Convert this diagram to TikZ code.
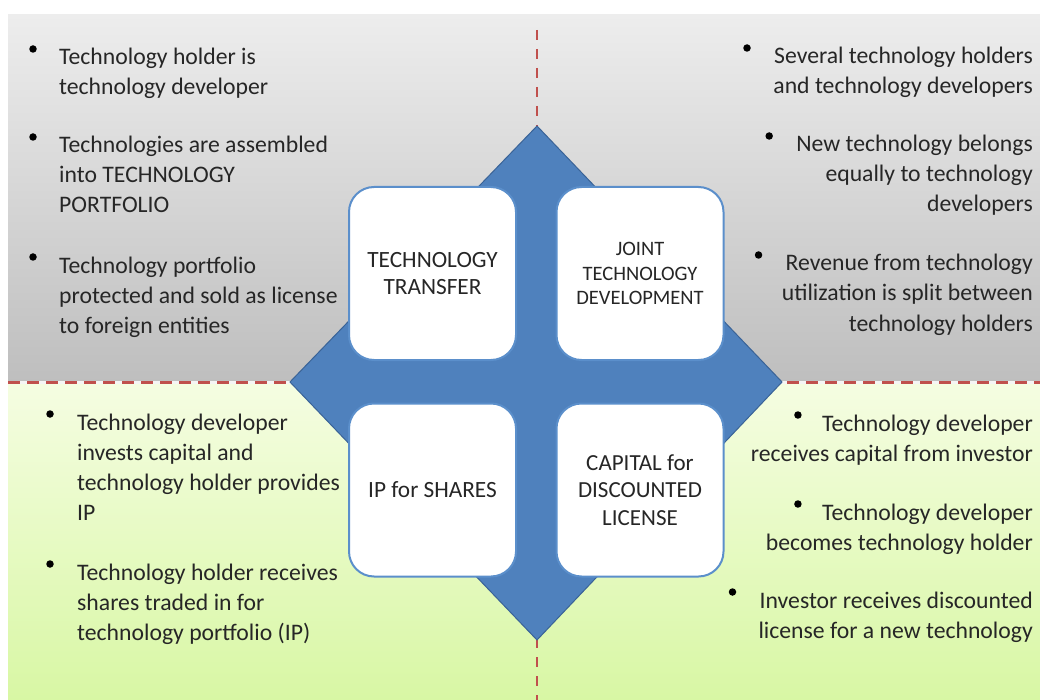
\documentclass[tikz,border=0pt]{standalone}
\usepackage{fontspec}
\setmainfont{Carlito}
\usetikzlibrary{calc}
\definecolor{diamondblue}{HTML}{4F81BD}
\definecolor{diamondedge}{HTML}{3A6397}
\definecolor{boxedge}{HTML}{5B8FCB}
\definecolor{reddash}{HTML}{C0504D}
\definecolor{txt}{HTML}{262626}
\definecolor{graytop}{RGB}{237,237,237}
\definecolor{graybot}{RGB}{190,190,190}
\definecolor{greentop}{RGB}{245,253,226}
\definecolor{greenbot}{RGB}{216,247,164}
\begin{document}
\begin{tikzpicture}[x=1pt,y=-1pt,
  ln/.style={font=\fontsize{23.7}{30}\selectfont, inner sep=0pt, text=txt},
  lnl/.style={ln, anchor=base west},
  lnr/.style={ln, anchor=base east},
  bul/.style={circle, fill=black, inner sep=0pt, minimum size=7.5pt},
  card/.style={draw=boxedge, line width=2pt, fill=white, rounded corners=25pt,
    minimum width=167pt, minimum height=173pt, align=center, text=txt,
    font=\fontsize{23.3}{27.5}\selectfont, inner sep=0pt}]
\useasboundingbox (0,0) rectangle (1040,700);
% panels
\shade[top color=graytop, bottom color=graybot] (8,15) rectangle (1040,382);
\shade[top color=greentop, bottom color=greenbot] (8,382) rectangle (1040,700);
% dashed dividers
\coordinate (hl) at (8,382);
\coordinate (hr) at (1040,382);
\coordinate (vt) at (537,30);
\coordinate (vb) at (537,700);
\draw[white!92!gray, line width=3pt] (hl) -- (hr);
\draw[reddash, line width=3pt, dash pattern=on 12pt off 7pt] (hl) -- (hr);
\draw[reddash, line width=2pt, dash pattern=on 10pt off 9pt] (vt) -- (vb);
% diamond
\filldraw[fill=diamondblue, draw=diamondedge, line width=1pt]
  (537,126) -- (782,382) -- (537,640) -- (290,382) -- cycle;
% cards
\node[card] (tt) at (432.5,273.5) {TECHNOLOGY\\TRANSFER};
\node[card, font=\fontsize{20.5}{24.5}\selectfont] (jtd) at (640,273.5) {JOINT\\TECHNOLOGY\\DEVELOPMENT};
\node[card] (ip) at (432.5,490) {IP for SHARES};
\node[card, font=\fontsize{23}{27.5}\selectfont] (cap) at (640,490) {CAPITAL for\\DISCOUNTED\\LICENSE};
% top left
\node[lnl] (tl1a) at (59,65) {Technology holder is};
\node[lnl] (tl1b) at (59,95) {technology developer};
\node[lnl] (tl2a) at (59,153) {Technologies are assembled};
\node[lnl] (tl2b) at (59,183) {into TECHNOLOGY};
\node[lnl] (tl2c) at (59,213) {PORTFOLIO};
\node[lnl] (tl3a) at (59,273) {Technology portfolio};
\node[lnl] (tl3b) at (59,303) {protected and sold as license};
\node[lnl] (tl3c) at (59,333) {to foreign entities};
\node[bul] (btl1) at ($(tl1a.base west)+(-26,-16)$) {};
\node[bul] (btl2) at ($(tl2a.base west)+(-26,-16)$) {};
\node[bul] (btl3) at ($(tl3a.base west)+(-26,-16)$) {};
% top right
\node[lnr] (tr1a) at (1033,64) {Several technology holders};
\node[lnr] (tr1b) at (1033,94) {and technology developers};
\node[lnr] (tr2a) at (1033,152) {New technology belongs};
\node[lnr] (tr2b) at (1033,182) {equally to technology};
\node[lnr] (tr2c) at (1033,212) {developers};
\node[lnr] (tr3a) at (1033,271) {Revenue from technology};
\node[lnr] (tr3b) at (1033,301) {utilization is split between};
\node[lnr] (tr3c) at (1033,331) {technology holders};
\node[bul] (btr1) at ($(tr1a.base west)+(-27,-16)$) {};
\node[bul] (btr2) at ($(tr2a.base west)+(-27,-16)$) {};
\node[bul] (btr3) at ($(tr3a.base west)+(-27,-16)$) {};
% bottom left
\node[lnl] (bl1a) at (77,430) {Technology developer};
\node[lnl] (bl1b) at (77,460) {invests capital and};
\node[lnl] (bl1c) at (77,490) {technology holder provides};
\node[lnl] (bl1d) at (77,520) {IP};
\node[lnl] (bl2a) at (77,580) {Technology holder receives};
\node[lnl] (bl2b) at (77,610) {shares traded in for};
\node[lnl] (bl2c) at (77,640) {technology portfolio (IP)};
\node[bul] (bbl1) at ($(bl1a.base west)+(-27,-16)$) {};
\node[bul] (bbl2) at ($(bl2a.base west)+(-27,-16)$) {};
% bottom right
\node[lnr] (br1a) at (1033,431) {Technology developer};
\node[lnr] (br1b) at (1033,461) {receives capital from investor};
\node[lnr] (br2a) at (1033,520) {Technology developer};
\node[lnr] (br2b) at (1033,550) {becomes technology holder};
\node[lnr] (br3a) at (1033,608) {Investor receives discounted};
\node[lnr] (br3b) at (1033,638) {license for a new technology};
\node[bul] (bbr1) at ($(br1a.base west)+(-24,-16)$) {};
\node[bul] (bbr2) at ($(br2a.base west)+(-24,-16)$) {};
\node[bul] (bbr3) at ($(br3a.base west)+(-27,-16)$) {};
\end{tikzpicture}
\end{document}
